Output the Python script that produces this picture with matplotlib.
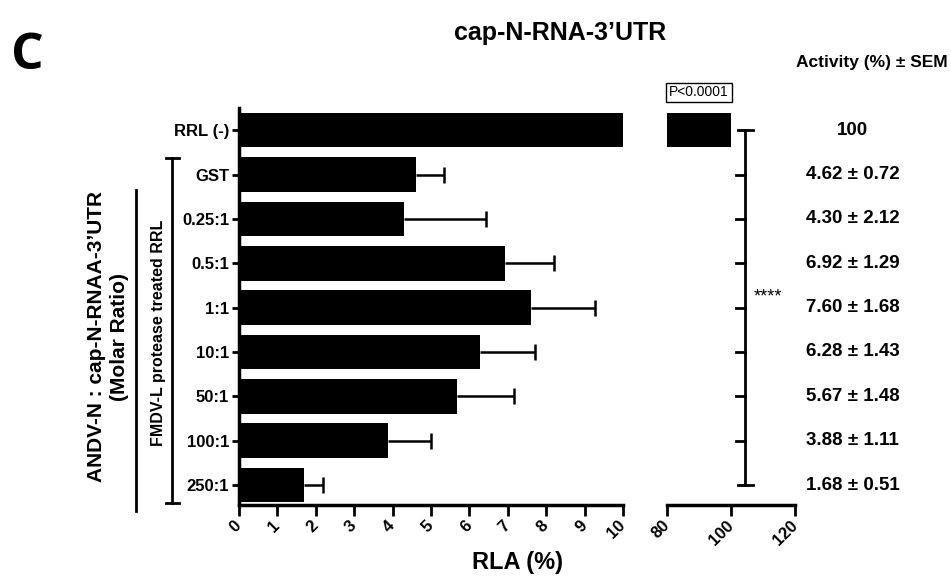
import matplotlib
matplotlib.use('Agg')
import matplotlib.pyplot as plt
from matplotlib.lines import Line2D
import numpy as np

plt.rcParams['font.family'] = ['Liberation Sans', 'DejaVu Sans']

categories = ['RRL (-)', 'GST', '0.25:1', '0.5:1', '1:1', '10:1', '50:1', '100:1', '250:1']
activity = [100, 4.62, 4.30, 6.92, 7.60, 6.28, 5.67, 3.88, 1.68]
sem = [0, 0.72, 2.12, 1.29, 1.68, 1.43, 1.48, 1.11, 0.51]
left_ticks = [0, 1, 2, 3, 4, 5, 6, 7, 8, 9, 10]
right_ticks = [80, 100, 120]
value_labels = ['100', '4.62 ± 0.72', '4.30 ± 2.12', '6.92 ± 1.29', '7.60 ± 1.68',
                '6.28 ± 1.43', '5.67 ± 1.48', '3.88 ± 1.11', '1.68 ± 0.51']

W, H = 951, 580
fig = plt.figure(figsize=(W / 100, H / 100), dpi=100)

def fx(px):
    return px / W

def fy(py):
    return 1 - py / H

ax1 = fig.add_axes([fx(239), fy(505), (623 - 239) / W, (505 - 108) / H])
ax2 = fig.add_axes([fx(667), fy(505), (795 - 667) / W, (505 - 108) / H])

y = np.arange(len(categories))
for ax in (ax1, ax2):
    ax.barh(y, activity, height=0.78, color='black')
    ax.set_ylim(8.45, -0.5)
    for s in ('top', 'right'):
        ax.spines[s].set_visible(False)
    ax.spines['bottom'].set_linewidth(2.5)
    ax.spines['left'].set_linewidth(2.5)
    ax.tick_params(axis='x', direction='out', length=8, width=2, pad=5)

# error bars (positive side only)
act = np.array(activity)
err = np.array(sem)
mask = err > 0
xerr = np.vstack([np.zeros(mask.sum()), err[mask]])
eb = ax1.errorbar(act[mask], y[mask], xerr=xerr, fmt='none',
                  ecolor='black', elinewidth=1.8, capsize=6, capthick=1.8)
for cl in eb[1]:
    if np.allclose(np.asarray(cl.get_xdata(), dtype=float), act[mask]):
        cl.set_visible(False)

ax1.set_xlim(0, 10)
ax1.set_xticks(left_ticks)
ax1.set_xticklabels([str(t) for t in left_ticks], rotation=45, ha='right', va='center',
                    rotation_mode='anchor', fontsize=12, fontweight='bold')
ax1.set_yticks(y)
ax1.set_yticklabels(categories, fontsize=12, fontweight='bold')
ax1.tick_params(axis='y', direction='out', length=5, width=2, pad=2)

ax2.set_xlim(80, 120)
ax2.set_xticks(right_ticks)
ax2.set_xticklabels([str(t) for t in right_ticks], rotation=45, ha='right', va='center',
                    rotation_mode='anchor', fontsize=12, fontweight='bold')
ax2.spines['left'].set_visible(False)
ax2.set_yticks([])

# significance bracket in right axis coordinates
bx = 104.4
ax2.add_line(Line2D([bx, bx], [0, 8], color='black', lw=2, clip_on=False))
ax2.add_line(Line2D([102.2, 106.8], [0, 0], color='black', lw=2, clip_on=False))
ax2.add_line(Line2D([102.2, 106.8], [8, 8], color='black', lw=2, clip_on=False))
for yi in y[1:-1]:
    ax2.add_line(Line2D([101.6, bx], [yi, yi], color='black', lw=2, clip_on=False))
ax2.text(107.0, 3.75, '****', fontsize=13, ha='left', va='center', clip_on=False)

# activity labels
for yi, lab in zip(y, value_labels):
    ax2.text(138.0, yi, lab, fontsize=13.5, fontweight='bold', ha='center', va='center',
             clip_on=False)

ax2.text(90, -0.85, 'P<0.0001', fontsize=10, ha='center', va='center', clip_on=False,
         bbox=dict(boxstyle='square,pad=0.2', facecolor='white', edgecolor='black', lw=1))

fig.text(fx(948), fy(62), 'Activity (%) ± SEM', fontsize=12.5, fontweight='bold',
         ha='right', va='center')
fig.text(fx(560), fy(33), 'cap-N-RNA-3’UTR', fontsize=18, fontweight='bold',
         ha='center', va='center')
fig.text(fx(11), fy(56), 'C', fontsize=37, fontweight='bold', family='Open Sans',
         ha='left', va='center')
fig.text(fx(517), fy(562), 'RLA (%)', fontsize=17, fontweight='bold',
         ha='center', va='center')

fig.text(fx(108), fy(337), 'ANDV-N : cap-N-RNAA-3’UTR\n(Molar Ratio)', fontsize=15,
         fontweight='bold', rotation=90, ha='center', va='center', multialignment='center',
         linespacing=1.3)
fig.add_artist(Line2D([fx(136), fx(136)], [fy(190), fy(511)], transform=fig.transFigure,
                      color='black', lw=2))
fig.text(fx(158), fy(333), 'FMDV-L protease treated RRL', fontsize=11.5, fontweight='bold',
         rotation=90, ha='center', va='center')
fig.add_artist(Line2D([fx(172), fx(172)], [fy(158), fy(503)], transform=fig.transFigure,
                      color='black', lw=2))
fig.add_artist(Line2D([fx(166), fx(179)], [fy(158), fy(158)], transform=fig.transFigure,
                      color='black', lw=2))
fig.add_artist(Line2D([fx(166), fx(179)], [fy(503), fy(503)], transform=fig.transFigure,
                      color='black', lw=2))

fig.savefig('out.png', dpi=100)
